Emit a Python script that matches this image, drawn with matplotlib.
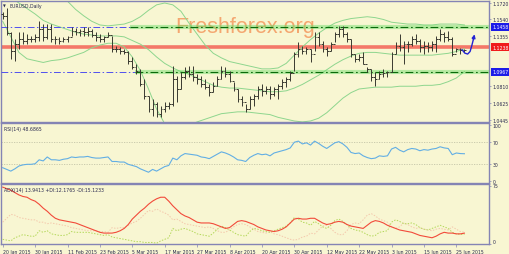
import numpy as np
import matplotlib
matplotlib.use('Agg')
import matplotlib.pyplot as plt
from matplotlib.transforms import blended_transform_factory

# ---------------- data ----------------
highs = [1.1622,1.1665,1.1403,1.1326,1.1403,1.1403,1.1381,1.1359,1.1381,1.1523,
         1.1491,1.1491,1.1491,1.1359,1.1348,1.1348,1.1359,1.1458,1.1447,1.1436,
         1.1458,1.1458,1.1436,1.1403,1.1381,1.1359,1.1403,1.1359,1.1250,1.1239,
         1.1217,1.1195,1.1130,1.1053,1.0999,1.0889,1.0704,1.0671,1.0638,1.0594,
         1.0638,1.0638,1.1031,1.0922,1.0966,1.1021,1.1031,1.1031,1.0944,1.0922,
         1.0889,1.0835,1.0857,1.0922,1.1031,1.1021,1.0977,1.0857,1.0780,1.0704,
         1.0616,1.0704,1.0725,1.0813,1.0835,1.0813,1.0813,1.0802,1.0835,1.0889,
         1.0911,1.0977,1.1184,1.1294,1.1250,1.1239,1.1217,1.1403,1.1403,1.1305,
         1.1239,1.1294,1.1403,1.1469,1.1469,1.1403,1.1326,1.1163,1.1163,1.1184,
         1.1021,1.0999,1.0966,1.0977,1.0999,1.0977,1.1184,1.1294,1.1381,1.1305,
         1.1305,1.1359,1.1381,1.1326,1.1305,1.1294,1.1305,1.1359,1.1436,1.1403,
         1.1414,1.1348,1.1228,1.1228,1.1217]
lows = [1.1545,1.1370,1.1108,1.1086,1.1217,1.1272,1.1272,1.1294,1.1294,1.1305,
        1.1305,1.1326,1.1294,1.1272,1.1272,1.1294,1.1294,1.1359,1.1370,1.1359,
        1.1359,1.1359,1.1348,1.1305,1.1294,1.1294,1.1348,1.1184,1.1184,1.1163,
        1.1163,1.1053,1.0999,1.0944,1.0813,1.0671,1.0529,1.0485,1.0474,1.0474,
        1.0529,1.0561,1.0594,1.0638,1.0780,1.0889,1.0911,1.0868,1.0835,1.0802,
        1.0780,1.0704,1.0747,1.0813,1.0889,1.0911,1.0857,1.0758,1.0638,1.0594,
        1.0529,1.0561,1.0594,1.0671,1.0704,1.0725,1.0671,1.0704,1.0671,1.0780,
        1.0802,1.0868,1.0977,1.1130,1.1163,1.1163,1.1075,1.1195,1.1250,1.1184,
        1.1141,1.1195,1.1294,1.1348,1.1348,1.1294,1.1130,1.1075,1.1086,1.1053,
        1.0966,1.0868,1.0813,1.0889,1.0911,1.0911,1.0966,1.1163,1.1195,1.1053,
        1.1184,1.1250,1.1272,1.1184,1.1163,1.1184,1.1195,1.1184,1.1305,1.1294,
        1.1305,1.1141,1.1184,1.1163,1.1184]
closes = [1.1578,1.1392,1.1195,1.1272,1.1326,1.1305,1.1326,1.1326,1.1348,1.1436,
          1.1348,1.1436,1.1326,1.1326,1.1305,1.1326,1.1348,1.1414,1.1403,1.1414,
          1.1403,1.1414,1.1370,1.1348,1.1326,1.1348,1.1370,1.1217,1.1217,1.1195,
          1.1184,1.1086,1.1021,1.0977,1.0835,1.0704,1.0561,1.0616,1.0507,1.0561,
          1.0594,1.0616,1.0889,1.0780,1.0911,1.0977,1.0944,1.0911,1.0889,1.0835,
          1.0802,1.0747,1.0813,1.0889,1.0977,1.0944,1.0868,1.0780,1.0671,1.0638,
          1.0561,1.0671,1.0704,1.0780,1.0758,1.0780,1.0725,1.0780,1.0813,1.0857,
          1.0889,1.0955,1.1163,1.1217,1.1195,1.1217,1.1163,1.1348,1.1272,1.1217,
          1.1195,1.1272,1.1381,1.1436,1.1381,1.1326,1.1163,1.1108,1.1130,1.1053,
          1.0999,1.0911,1.0889,1.0944,1.0955,1.0966,1.1163,1.1250,1.1239,1.1272,
          1.1272,1.1326,1.1305,1.1239,1.1250,1.1239,1.1272,1.1326,1.1381,1.1348,
          1.1326,1.1163,1.1217,1.1206,1.1206]
first_open = 1.1600

# Bollinger bands (every second bar)
bb_upper = [1.212,1.209,1.205,1.201,1.196,1.192,1.187,1.181,1.174,1.165,
            1.158,1.152,1.148,1.147,1.148,1.149,1.152,1.157,1.164,1.170,
            1.172,1.170,1.163,1.150,1.138,1.126,1.117,1.112,1.108,1.106,
            1.104,1.102,1.100,1.100,1.101,1.106,1.115,1.124,1.132,1.139,
            1.145,1.150,1.153,1.155,1.156,1.157,1.156,1.154,1.151,1.150,
            1.149,1.149,1.148,1.148,1.149,1.149,1.149,1.148]
bb_middle = [1.182,1.178,1.172,1.166,1.160,1.153,1.149,1.146,1.143,1.140,
             1.138,1.137,1.136,1.136,1.136,1.135,1.131,1.127,1.121,1.113,
             1.106,1.101,1.097,1.094,1.090,1.086,1.082,1.080,1.079,1.079,
             1.078,1.077,1.076,1.075,1.075,1.076,1.079,1.083,1.088,1.093,
             1.099,1.105,1.110,1.114,1.117,1.118,1.118,1.117,1.116,1.115,
             1.115,1.115,1.115,1.115,1.116,1.117,1.119,1.122]
bb_lower = [1.152,1.135,1.118,1.111,1.109,1.107,1.109,1.110,1.112,1.115,
            1.118,1.123,1.126,1.128,1.128,1.124,1.113,1.098,1.078,1.056,
            1.040,1.031,1.032,1.038,1.042,1.045,1.048,1.051,1.052,1.053,
            1.053,1.052,1.051,1.050,1.047,1.045,1.043,1.042,1.043,1.046,
            1.052,1.060,1.068,1.074,1.078,1.079,1.080,1.080,1.080,1.081,
            1.081,1.081,1.082,1.082,1.083,1.086,1.090,1.097]

rsi = [24,21,18,22,27,29,30,30,31,38, 36,43,38,38,37,39,40,43,42,43,
       43,44,42,41,41,42,43,35,35,34, 34,30,28,26,22,19,16,21,18,22,
       26,28,41,38,45,49,48,47,46,43, 42,40,44,48,52,50,47,43,38,37,
       35,42,46,49,47,48,45,50,52,54, 56,59,69,71,66,68,64,71,67,62,
       58,63,68,70,66,60,51,49,50,45, 42,40,41,45,44,45,57,60,55,52,
       56,58,57,54,56,55,57,58,61,59, 58,47,50,49,48.7]
adx = [73,71,69,66,63,61,60,57,55,51, 46,42,37,33,31,30,29,28,27,25,
       23,21,19,17,15,14,14,14,15,17, 20,25,32,37,42,46,51,55,58,60,
       60,55,49,44,39,36,34,31,28,27, 27,27,26,24,22,20,21,25,29,30,
       29,27,25,22,20,18,17,16,17,19, 22,27,32,33,32,32,33,33,30,27,
       25,26,28,29,28,25,23,22,21,20, 24,28,30,29,27,24,22,20,18,17,
       16,15,13,11,10,9,8,10,13,15, 14,14,13,13,13.94]
plus_di = [6,5,4,8,10,12,11,10,10,17, 15,17,13,12,11,11,12,16,15,15,
           15,15,14,13,12,11,12,9,8,7, 6,5,4,3,3,2,2,2,1,4,
           6,8,20,17,19,20,18,16,13,12, 11,10,14,19,23,21,18,15,12,11,
           10,16,20,19,17,16,15,17,19,21, 23,27,34,32,28,27,24,29,26,22,
           20,24,30,32,29,25,20,18,17,15, 12,10,11,15,16,17,28,31,29,26,
           26,27,25,21,19,18,20,22,24,22, 20,15,13,12.5,12.18]
minus_di = [28,33,38,37,34,33,32,31,31,28, 28,26,27,26,25,24,23,21,20,19,
            18,17,17,17,16,16,15,21,20,21, 21,24,27,29,33,38,43,42,45,42,
            40,37,31,32,29,26,25,24,23,22, 21,22,20,17,15,15,18,22,25,26,
            25,22,19,16,15,14,16,13,12,10, 8,6,5,6,9,10,14,13,18,23,
            24,20,15,12,12,17,25,27,26,31, 37,39,36,32,30,28,22,20,22,27,
            25,22,20,21,19,18,17,19,20,19, 18,22,19,16,15.12]

date_labels = ['20 Jan 2015', '30 Jan 2015', '11 Feb 2015', '23 Feb 2015', '5 Mar 2015',
               '17 Mar 2015', '27 Mar 2015', '8 Apr 2015', '20 Apr 2015', '30 Apr 2015',
               '12 May 2015', '22 May 2015', '3 Jun 2015', '15 Jun 2015', '25 Jun 2015']
price_ticks = [1.1720, 1.1540, 1.1355, 1.0810, 1.0625, 1.0445]
resistance = 1.1458
pivot = 1.1238
support = 1.0967
arrow_path_x = [113.4, 114.1, 114.8, 115.4, 115.8, 116.2]
arrow_path_y = [1.1210, 1.1172, 1.1162, 1.1190, 1.1250, 1.1320]

# ---------------- style ----------------
BG = '#F8F6D2'
FRAME = '#8484B4'
TXT = '#2A2A50'
FS = 3.3
W, H = 510, 255

fig = plt.figure(figsize=(W / 100, H / 100), dpi=100, facecolor=BG)


def px_axes(l, t, r, b):
    a = fig.add_axes([l / W, 1 - b / H, (r - l) / W, (b - t) / H])
    a.set_facecolor(BG)
    for s in a.spines.values():
        s.set_color(FRAME)
        s.set_linewidth(1.0)
    return a


ax = px_axes(1, 2, 489, 123)
ax_rsi = px_axes(1, 124, 489, 184)
ax_adx = px_axes(1, 185, 489, 245)

xlim = (-0.42, 120.07)
for a in (ax, ax_rsi, ax_adx):
    a.set_xlim(*xlim)
    a.yaxis.tick_right()
    a.tick_params(axis='y', length=1.5, width=0.5, pad=1.2, labelsize=FS,
                  colors=FRAME, labelcolor=TXT, direction='out')

# ---------------- main panel ----------------
idx = np.arange(len(closes))
opens = np.r_[first_open, np.array(closes[:-1])]
bb_x = np.arange(0, 2 * len(bb_upper), 2)

for band in (bb_upper, bb_middle, bb_lower):
    ax.plot(bb_x, band, color='#8ED68E', lw=0.7, zorder=2)

ax.set_ylim(1.0419, 1.1742)

# pivot red line
ax.axhline(pivot, color='#F47868', lw=2.6, zorder=1.5)

# support / resistance
brk_hi, brk_lo = 31.5, 32.6
for lvl, brk in ((resistance, brk_hi), (support, brk_lo)):
    ax.hlines(lvl, xlim[0], brk, color='#5050EE', lw=0.7,
              linestyles=[(0, (7, 2.5, 1.5, 2.5))], zorder=3)
    ax.hlines(lvl, brk, xlim[1], color='#66DD66', lw=3.0, alpha=0.45, zorder=3)
    ax.hlines(lvl, brk, xlim[1], color='#0A6A0A', lw=0.8,
              linestyles=[(0, (7, 2.5, 1.5, 2.5))], zorder=3.1)

# OHLC bars
bar_col = '#3A3A30'
ax.vlines(idx, lows, highs, color=bar_col, lw=0.7, zorder=4)
ax.hlines(opens, idx - 0.45, idx, color=bar_col, lw=0.7, zorder=4)
ax.hlines(closes, idx, idx + 0.45, color=bar_col, lw=0.7, zorder=4)

# hand-drawn arrow
ax.plot(arrow_path_x, arrow_path_y, color='#2424D4', lw=1.0, zorder=5,
        solid_capstyle='round')
ax.annotate('', xy=(116.5, 1.1378), xytext=(arrow_path_x[-1], arrow_path_y[-1]),
            arrowprops=dict(arrowstyle='-|>', color='#2424D4', lw=1.0,
                            mutation_scale=5, shrinkA=0, shrinkB=0), zorder=5)

ax.set_yticks(price_ticks)
ax.set_yticklabels(['%.4f' % v for v in price_ticks])
ax.set_xticks([])

trans = blended_transform_factory(ax.transAxes, ax.transData)
for lvl, fc in ((resistance, '#1C1CE8'), (pivot, '#F01C1C'), (support, '#1C1CE8')):
    ax.text(1.0065, lvl, '%.4f' % lvl, transform=trans, ha='left', va='center',
            fontsize=FS, color='white', clip_on=False, zorder=10,
            bbox=dict(boxstyle='square,pad=0.35', fc=fc, ec='none'))

# watermark
ax.text(0.357, 0.745, 'Freshforex.org', transform=ax.transAxes, fontsize=15.5,
        color='#F4A068', alpha=0.92, ha='left', va='baseline', zorder=1.8,
        family='Liberation Sans')

ax.text(0.004, 0.962, '\u25BC', transform=ax.transAxes, fontsize=2.6, color=TXT,
        ha='left', va='center')
ax.text(0.017, 0.962, 'EURUSD,Daily', transform=ax.transAxes, fontsize=FS,
        color=TXT, ha='left', va='center')

# ---------------- RSI ----------------
ax_rsi.set_ylim(-3, 103)
for lvl in (70, 30):
    ax_rsi.axhline(lvl, color='#C4C4A8', lw=0.6, ls=(0, (1.5, 1.5)))
ax_rsi.plot(idx, rsi, color='#62AEE4', lw=0.8)
ax_rsi.set_yticks([100, 70, 30, 0])
ax_rsi.set_yticklabels(['100', '70', '30', '0'])
ax_rsi.set_xticks([])
ax_rsi.text(0.006, 0.915, 'RSI(14) 48.6865', transform=ax_rsi.transAxes,
            fontsize=FS, color=TXT, ha='left', va='center')

# ---------------- ADX ----------------
ax_adx.set_ylim(0, 77)
ax_adx.plot(idx, minus_di, color='#F4C8AC', lw=0.7, ls=(0, (1.5, 1.5)))
ax_adx.plot(idx, plus_di, color='#B4D85A', lw=0.7, ls=(0, (1.5, 1.5)))
ax_adx.plot(idx, adx, color='#F24A3A', lw=0.8)
ax_adx.set_yticks([75, 0])
ax_adx.set_yticklabels(['75', '0'])
for lab, va in zip(ax_adx.get_yticklabels(), ('center', 'bottom')):
    lab.set_va(va)
ax_adx.text(0.006, 0.915, 'ADX(14) 13.9413 +DI:12.1765 -DI:15.1233',
            transform=ax_adx.transAxes, fontsize=FS, color=TXT, ha='left', va='center')

tick_pos = np.arange(0, 8 * len(date_labels), 8)
ax_adx.set_xticks(tick_pos)
ax_adx.set_xticklabels(date_labels)
ax_adx.tick_params(axis='x', length=2, width=0.5, pad=1.5, labelsize=FS,
                   colors=FRAME, labelcolor=TXT)
for lab in ax_adx.get_xticklabels():
    lab.set_ha('left')

fig.savefig('out.png', dpi=100, facecolor=BG)
